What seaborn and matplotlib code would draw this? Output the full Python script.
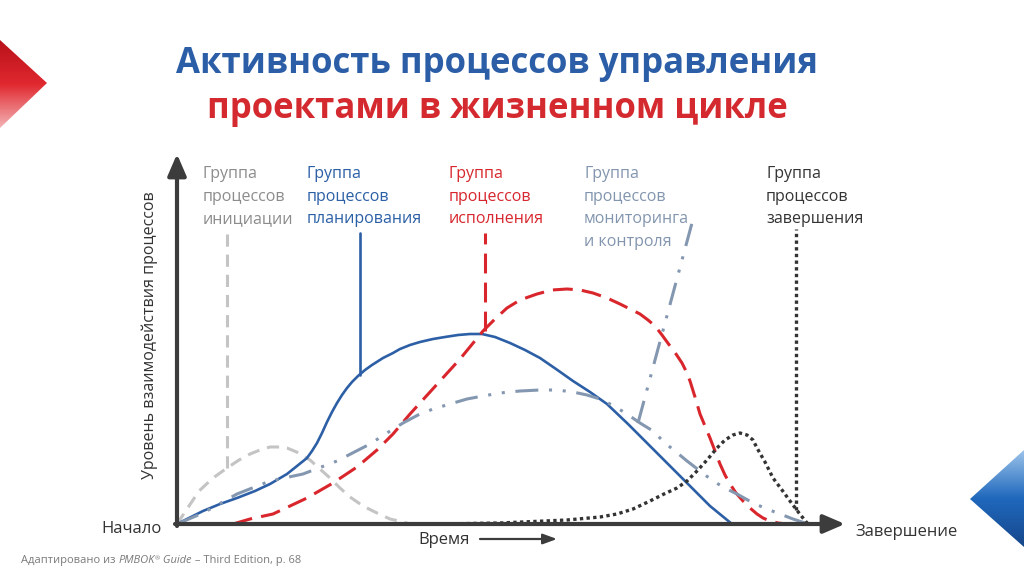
import matplotlib
matplotlib.use("Agg")
import numpy as np
import matplotlib.pyplot as plt
from matplotlib.patches import Polygon
import pandas as pd
import seaborn as sns

sns.set_theme(style="white")
plt.rcParams["font.family"] = ["Open Sans", "DejaVu Sans"]

# Time runs 0..668 and level 0..368 (units)
t_init = [0, 8, 22, 36, 50, 62, 73, 83, 93, 103, 110, 122, 133, 143, 153, 163, 173,
          186, 200, 213, 226, 233]
lvl_init = [0, 12, 33, 46, 56, 64, 70, 74, 77, 77, 76, 71, 64, 55, 46, 36, 27,
            18, 11, 5, 2, 0]

t_plan = [0, 26, 43, 60, 78, 93, 110, 130, 135, 140, 145, 150, 155, 160, 165, 170, 175,
          181, 188, 195, 206, 216, 223, 233, 243, 256, 268, 281, 293, 305, 318, 333,
          348, 363, 379, 396, 413, 430, 451, 473, 491, 510, 533, 555]
lvl_plan = [0, 13, 20, 26, 33, 40, 50, 66, 73, 81, 91, 102, 112, 121, 129, 136, 142,
            148, 154, 159, 166, 171, 175, 179, 182, 185, 187, 189, 190, 190, 187, 181,
            174, 166, 155, 143, 132, 120, 100, 78, 60, 41, 18, 0]

t_exec = [56, 73, 96, 113, 130, 156, 180, 200, 216, 233, 253, 283, 306, 318, 330, 343,
          360, 375, 390, 403, 416, 430, 443, 453, 463, 471, 478, 485, 493, 499, 505,
          509, 513, 518, 523, 528, 533, 538, 543, 548, 553, 559, 566, 573, 580, 586,
          593, 601, 610]
lvl_exec = [0, 5, 10, 18, 26, 41, 57, 74, 90, 110, 132, 165, 193, 205, 216, 224,
            230, 234, 235, 234, 231, 226, 220, 215, 210, 204, 198, 189, 178, 170, 161,
            153, 143, 127, 110, 98, 86, 73, 60, 49, 40, 31, 23, 16, 10, 6,
            3, 1, 0]

t_mon = [0, 26, 60, 93, 126, 160, 193, 210, 226, 241, 256, 273, 290, 306, 323, 343,
         363, 380, 396, 410, 423, 437, 450, 463, 476, 488, 498, 510, 523, 536, 548,
         560, 576, 590, 603, 616, 631]
lvl_mon = [0, 11, 30, 43, 50, 63, 80, 91, 101, 109, 115, 120, 125, 128, 131, 133,
           134, 134, 132, 129, 125, 118, 110, 101, 93, 81, 73, 63, 53, 43, 36,
           30, 21, 15, 10, 5, 0]

t_close = [263, 323, 390, 423, 440, 456, 473, 487, 500, 510, 520, 530, 540, 548, 556,
           563, 570, 576, 580, 588, 596, 605, 613, 622, 630, 635]
lvl_close = [0, 1, 4, 7, 10, 15, 23, 30, 36, 43, 53, 64, 76, 84, 89, 91, 89, 84, 76,
             62, 46, 34, 23, 11, 1, 0]

group_labels = ["Группа\nпроцессов\nинициации",
                "Группа\nпроцессов\nпланирования",
                "Группа\nпроцессов\nисполнения",
                "Группа\nпроцессов\nмониторинга\nи контроля",
                "Группа\nпроцессов\nзавершения"]
label_x = [26, 130, 272, 407, 589]
label_colors = ["#8c8c8c", "#2b5fa6", "#d7262d", "#8295ae", "#333333"]

# leader lines from each curve up to its label
leader_t = [[50, 50], [183, 183], [308, 308], [461, 515], [619, 619]]
leader_lvl = [[56, 298], [149, 291], [193, 291], [101, 301], [14, 295]]

curve_t = [t_init, t_plan, t_exec, t_mon, t_close]
curve_lvl = [lvl_init, lvl_plan, lvl_exec, lvl_mon, lvl_close]
curve_colors = ["#c4c4c4", "#2c5fa5", "#d9262c", "#8497b0", "#333333"]
curve_lw = [2.2, 1.9, 2.2, 2.2, 2.4]
curve_ls = [(0, (4, 2.6)), "-", (0, (6.5, 3)), (0, (7.5, 3.5, 1, 3.5, 1, 3.5)), (0, (1, 1))]

fig = plt.figure(figsize=(10.24, 5.74), dpi=100)

# decoration layer in pixel space
deco = fig.add_axes([0, 0, 1, 1])
deco.set_xlim(0, 1024)
deco.set_ylim(574, 0)
deco.axis("off")


def gradient_shape(pts, colors):
    poly = Polygon(pts, closed=True, facecolor="none", edgecolor="none")
    deco.add_patch(poly)
    xs = [p[0] for p in pts]
    ys = [p[1] for p in pts]
    cmap = matplotlib.colors.LinearSegmentedColormap.from_list("g", colors)
    grad = np.linspace(0, 1, 256).reshape(-1, 1)
    im = deco.imshow(grad, cmap=cmap, aspect="auto",
                     extent=(min(xs), max(xs), max(ys), min(ys)), origin="upper")
    im.set_clip_path(poly)


gradient_shape([(0, 40), (47, 83), (0, 128)], ["#b8111a", "#e0282f", "#f3b3b5"])
gradient_shape([(1024, 450), (970, 499), (1024, 547)], ["#9cc3ea", "#1f68bd", "#17478a"])

deco.text(497, 73, "Активность процессов управления", ha="center", va="baseline",
          fontsize=25, fontweight="bold", color="#2b5ea7")
deco.text(497, 118, "проектами в жизненном цикле", ha="center", va="baseline",
          fontsize=25, fontweight="bold", color="#d42a2f")

# footnote with italic parts
foot_col = "#7a7a7a"
f1 = deco.text(21, 563, "Адаптировано из ", fontsize=8, color=foot_col, va="baseline")
f2 = deco.annotate("PMBOK", xy=(1, 0), xycoords=f1, fontsize=8, color=foot_col,
                   style="italic", va="bottom")
f3 = deco.annotate("®", xy=(1, 0.45), xycoords=f2, fontsize=4.5, color=foot_col,
                   va="bottom")
f4 = deco.annotate(" Guide", xy=(1, 0), xycoords=f2, xytext=(4, 0),
                   textcoords="offset points", fontsize=8, color=foot_col,
                   style="italic", va="bottom")
deco.annotate(" – Third Edition, p. 68", xy=(1, 0), xycoords=f4, fontsize=8,
              color=foot_col, va="bottom")

# main chart
ax = fig.add_axes([177 / 1024, 50 / 574, 668 / 1024, 368 / 574])
ax.set_xlim(0, 668)
ax.set_ylim(0, 368)
ax.axis("off")
ax.patch.set_alpha(0)

for t, lvl, c, lw, ls in zip(curve_t, curve_lvl, curve_colors, curve_lw, curve_ls):
    df = pd.DataFrame({"t": t, "lvl": lvl})
    sns.lineplot(data=df, x="t", y="lvl", ax=ax, color=c, lw=lw, linestyle=ls,
                 estimator=None, sort=False, clip_on=False, zorder=3)

for t, lvl, c, lw, ls in zip(leader_t, leader_lvl, curve_colors, curve_lw, curve_ls):
    sns.lineplot(x=t, y=lvl, ax=ax, color=c, lw=lw, linestyle=ls,
                 estimator=None, sort=False, clip_on=False, zorder=3)

axis_col = "#3c3c3c"
head = "-|>,head_length=0.65,head_width=0.28"
ax.annotate("", xy=(668, 0), xytext=(-2, 0),
            arrowprops=dict(arrowstyle=head, lw=3, color=axis_col, shrinkA=0, shrinkB=0,
                            mutation_scale=20), annotation_clip=False, zorder=4)
ax.annotate("", xy=(0, 370), xytext=(0, -2),
            arrowprops=dict(arrowstyle=head, lw=3, color=axis_col, shrinkA=0, shrinkB=0,
                            mutation_scale=20), annotation_clip=False, zorder=4)
ax.annotate("", xy=(380, -15), xytext=(303, -15),
            arrowprops=dict(arrowstyle="-|>,head_length=0.6,head_width=0.22", lw=1.6,
                            color=axis_col, shrinkA=0, shrinkB=0, mutation_scale=14),
            annotation_clip=False)

text_col = "#333333"
ax.text(-15, -9, "Начало", ha="right", va="baseline", fontsize=12, color=text_col)
ax.text(678, -12, "Завершение", ha="left", va="baseline", fontsize=12, color=text_col)
ax.text(241, -20, "Время", ha="left", va="baseline", fontsize=12, color=text_col)
ax.text(-27, 189, "Уровень взаимодействия процессов", rotation=90, ha="center",
        va="center", fontsize=11.5, color=text_col)

for lab, x0, col in zip(group_labels, label_x, label_colors):
    for i, line in enumerate(lab.split("\n")):
        ax.text(x0, 346 - 22.7 * i, line, ha="left", va="baseline", fontsize=11.5,
                color=col)

fig.savefig("out.png", dpi=100)
